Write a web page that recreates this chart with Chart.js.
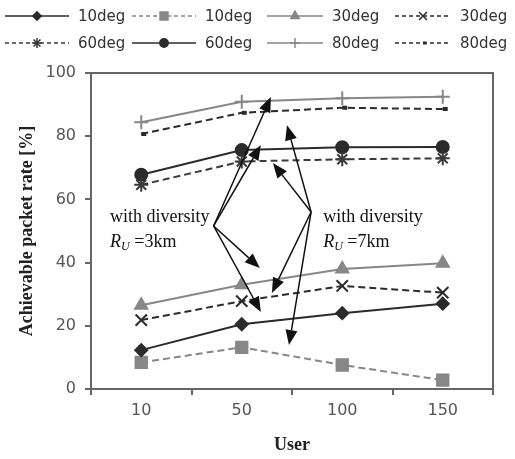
<!DOCTYPE html>
<html>
<head>
<meta charset="utf-8">
<script src="https://cdn.jsdelivr.net/npm/chart.js@4.4.1/dist/chart.umd.min.js"></script>
<style>
html, body { margin: 0; padding: 0; background: #fff; }
</style>
</head>
<body>
<canvas id="myChart" width="515" height="459"></canvas>
<script>
const users = ['10', '50', '100', '150'];
const deg10Solid = [12.3, 20.5, 24.0, 27.0];
const deg10Dash = [8.4, 13.2, 7.6, 2.8];
const deg30Solid = [26.5, 33.0, 38.0, 39.8];
const deg30Dash = [21.8, 27.8, 32.6, 30.5];
const deg60Dash = [64.6, 72.0, 72.7, 73.0];
const deg60Solid = [67.8, 75.6, 76.5, 76.6];
const deg80Solid = [84.4, 90.9, 92.0, 92.5];
const deg80Dash = [80.7, 87.4, 89.0, 88.6];

const black = '#2b2b2b';
const gray = '#878787';
const dash = [7, 4];

// arrows, in (category index, value) units
const noteLeft = { from: [0.72, 51.6], to: [[1.29, 92.4], [1.19, 77.2], [1.18, 38.3], [1.19, 24.4]] };
const noteRight = { from: [1.69, 56.0], to: [[1.45, 83.5], [1.31, 71.5], [1.30, 30.4], [1.47, 13.9]] };
const noteTexts = [
    { x: -0.31, km: '3km' },
    { x: 1.81, km: '7km' }
];

function series(label, data, color, dashed, pointStyle, radius, pointWidth) {
    return {
        label: label,
        data: data,
        borderColor: color,
        backgroundColor: color,
        borderWidth: 2,
        borderDash: dashed ? dash : [],
        pointStyle: pointStyle,
        pointRadius: radius,
        pointBorderWidth: pointWidth || 2,
        pointBackgroundColor: color,
        pointBorderColor: color,
        tension: 0
    };
}

const legendLineX = [5, 132, 267, 395];
const legendTextX = [78, 205, 332, 460];
const legendRowY = [16, 43];

const legendPlugin = {
    id: 'rowLegend',
    afterDraw(chart) {
        const ctx = chart.ctx;
        chart.data.datasets.forEach((ds, i) => {
            const col = i % 4, row = Math.floor(i / 4);
            const x0 = legendLineX[col], x1 = legendTextX[col] - 9, y = legendRowY[row];
            ctx.save();
            ctx.strokeStyle = ds.borderColor;
            ctx.fillStyle = ds.borderColor;
            ctx.lineWidth = 1.5;
            ctx.setLineDash(ds.borderDash.length ? [4, 3] : []);
            ctx.beginPath();
            ctx.moveTo(x0, y);
            ctx.lineTo(x1, y);
            ctx.stroke();
            ctx.setLineDash([]);
            ctx.lineWidth = ds.pointStyle === 'dash' ? 3 : 1.5;
            Chart.helpers.drawPoint(ctx, {
                pointStyle: ds.pointStyle,
                radius: ds.pointRadius * 0.7,
                borderWidth: 1.5,
                rotation: 0
            }, (x0 + x1) / 2, y);
            ctx.fillStyle = '#333';
            ctx.font = '15px "DejaVu Sans"';
            ctx.textBaseline = 'middle';
            ctx.textAlign = 'left';
            ctx.fillText(ds.label, legendTextX[col], y + 1);
            ctx.restore();
        });
    }
};

const framePlugin = {
    id: 'frame',
    beforeDatasetsDraw(chart) {
        const {ctx, chartArea: a} = chart;
        ctx.save();
        ctx.strokeStyle = '#666';
        ctx.lineWidth = 2;
        ctx.beginPath();
        ctx.moveTo(a.left, a.top);
        ctx.lineTo(a.right, a.top);
        ctx.lineTo(a.right, a.bottom);
        ctx.stroke();
        ctx.restore();
    }
};

function arrow(ctx, x0, y0, x1, y1) {
    const ang = Math.atan2(y1 - y0, x1 - x0);
    const len = 15, half = 6;
    const bx = x1 - len * Math.cos(ang), by = y1 - len * Math.sin(ang);
    ctx.beginPath();
    ctx.moveTo(x0, y0);
    ctx.lineTo(bx, by);
    ctx.stroke();
    ctx.beginPath();
    ctx.moveTo(x1, y1);
    ctx.lineTo(bx + half * Math.sin(ang), by - half * Math.cos(ang));
    ctx.lineTo(bx - half * Math.sin(ang), by + half * Math.cos(ang));
    ctx.closePath();
    ctx.fill();
}

const notePlugin = {
    id: 'notes',
    afterDatasetsDraw(chart) {
        const ctx = chart.ctx;
        const xs = chart.scales.x, ys = chart.scales.y;
        const px = v => xs.getPixelForValue(v), py = v => ys.getPixelForValue(v);
        ctx.save();
        ctx.strokeStyle = '#111';
        ctx.fillStyle = '#111';
        ctx.lineWidth = 1.5;
        [noteLeft, noteRight].forEach(n => {
            n.to.forEach(t => arrow(ctx, px(n.from[0]), py(n.from[1]), px(t[0]), py(t[1])));
        });
        ctx.textBaseline = 'middle';
        ctx.textAlign = 'left';
        noteTexts.forEach(t => {
            const x = px(t.x);
            ctx.font = '18px "Liberation Serif"';
            ctx.fillText('with diversity', x, py(54.4));
            const y2 = py(46.5);
            ctx.font = 'italic 18px "Liberation Serif"';
            ctx.fillText('R', x, y2);
            let w = ctx.measureText('R').width;
            ctx.font = 'italic 12px "Liberation Serif"';
            ctx.fillText('U', x + w, y2 + 5);
            w += ctx.measureText('U').width;
            ctx.font = '18px "Liberation Serif"';
            ctx.fillText(' =' + t.km, x + w, y2);
        });
        ctx.restore();
    }
};

new Chart(document.getElementById('myChart'), {
    type: 'line',
    plugins: [framePlugin, notePlugin, legendPlugin],
    data: {
        labels: users,
        datasets: [
            series('10deg', deg10Solid, black, false, 'rectRot', 6),
            series('10deg', deg10Dash, gray, true, 'rect', 8),
            series('30deg', deg30Solid, gray, false, 'triangle', 7),
            series('30deg', deg30Dash, black, true, 'crossRot', 8),
            series('60deg', deg60Dash, '#3a3a3a', true, 'star', 7),
            series('60deg', deg60Solid, black, false, 'circle', 6),
            series('80deg', deg80Solid, gray, false, 'cross', 7),
            series('80deg', deg80Dash, black, true, 'dash', 5, 4)
        ]
    },
    options: {
        responsive: false,
        animation: false,
        layout: {
            padding: { left: 0, right: 22, top: 73, bottom: 0 }
        },
        plugins: {
            legend: { display: false },
            tooltip: { enabled: false }
        },
        scales: {
            x: {
                type: 'category',
                offset: true,
                afterFit: s => { s.height = 70; },
                grid: {
                    offset: true,
                    drawOnChartArea: false,
                    color: '#666',
                    lineWidth: 2,
                    tickLength: 6
                },
                border: { color: '#666', width: 2 },
                ticks: {
                    color: '#555',
                    padding: 6,
                    font: { family: 'DejaVu Sans', size: 16 }
                },
                title: {
                    display: true,
                    text: 'User',
                    color: '#222',
                    padding: { top: 0, bottom: 3 },
                    font: { family: 'Liberation Serif', size: 18, weight: 'bold' }
                }
            },
            y: {
                min: 0,
                max: 100,
                afterFit: s => { s.width = 91; },
                grid: {
                    drawOnChartArea: false,
                    color: '#666',
                    lineWidth: 2,
                    tickLength: 6
                },
                border: { color: '#666', width: 2 },
                ticks: {
                    stepSize: 20,
                    color: '#555',
                    padding: 9,
                    font: { family: 'DejaVu Sans', size: 16 }
                },
                title: {
                    display: true,
                    text: 'Achievable packet rate [%]',
                    color: '#222',
                    padding: { top: 17, bottom: 0 },
                    font: { family: 'Liberation Serif', size: 18, weight: 'bold' }
                }
            }
        }
    }
});
</script>
</body>
</html>
